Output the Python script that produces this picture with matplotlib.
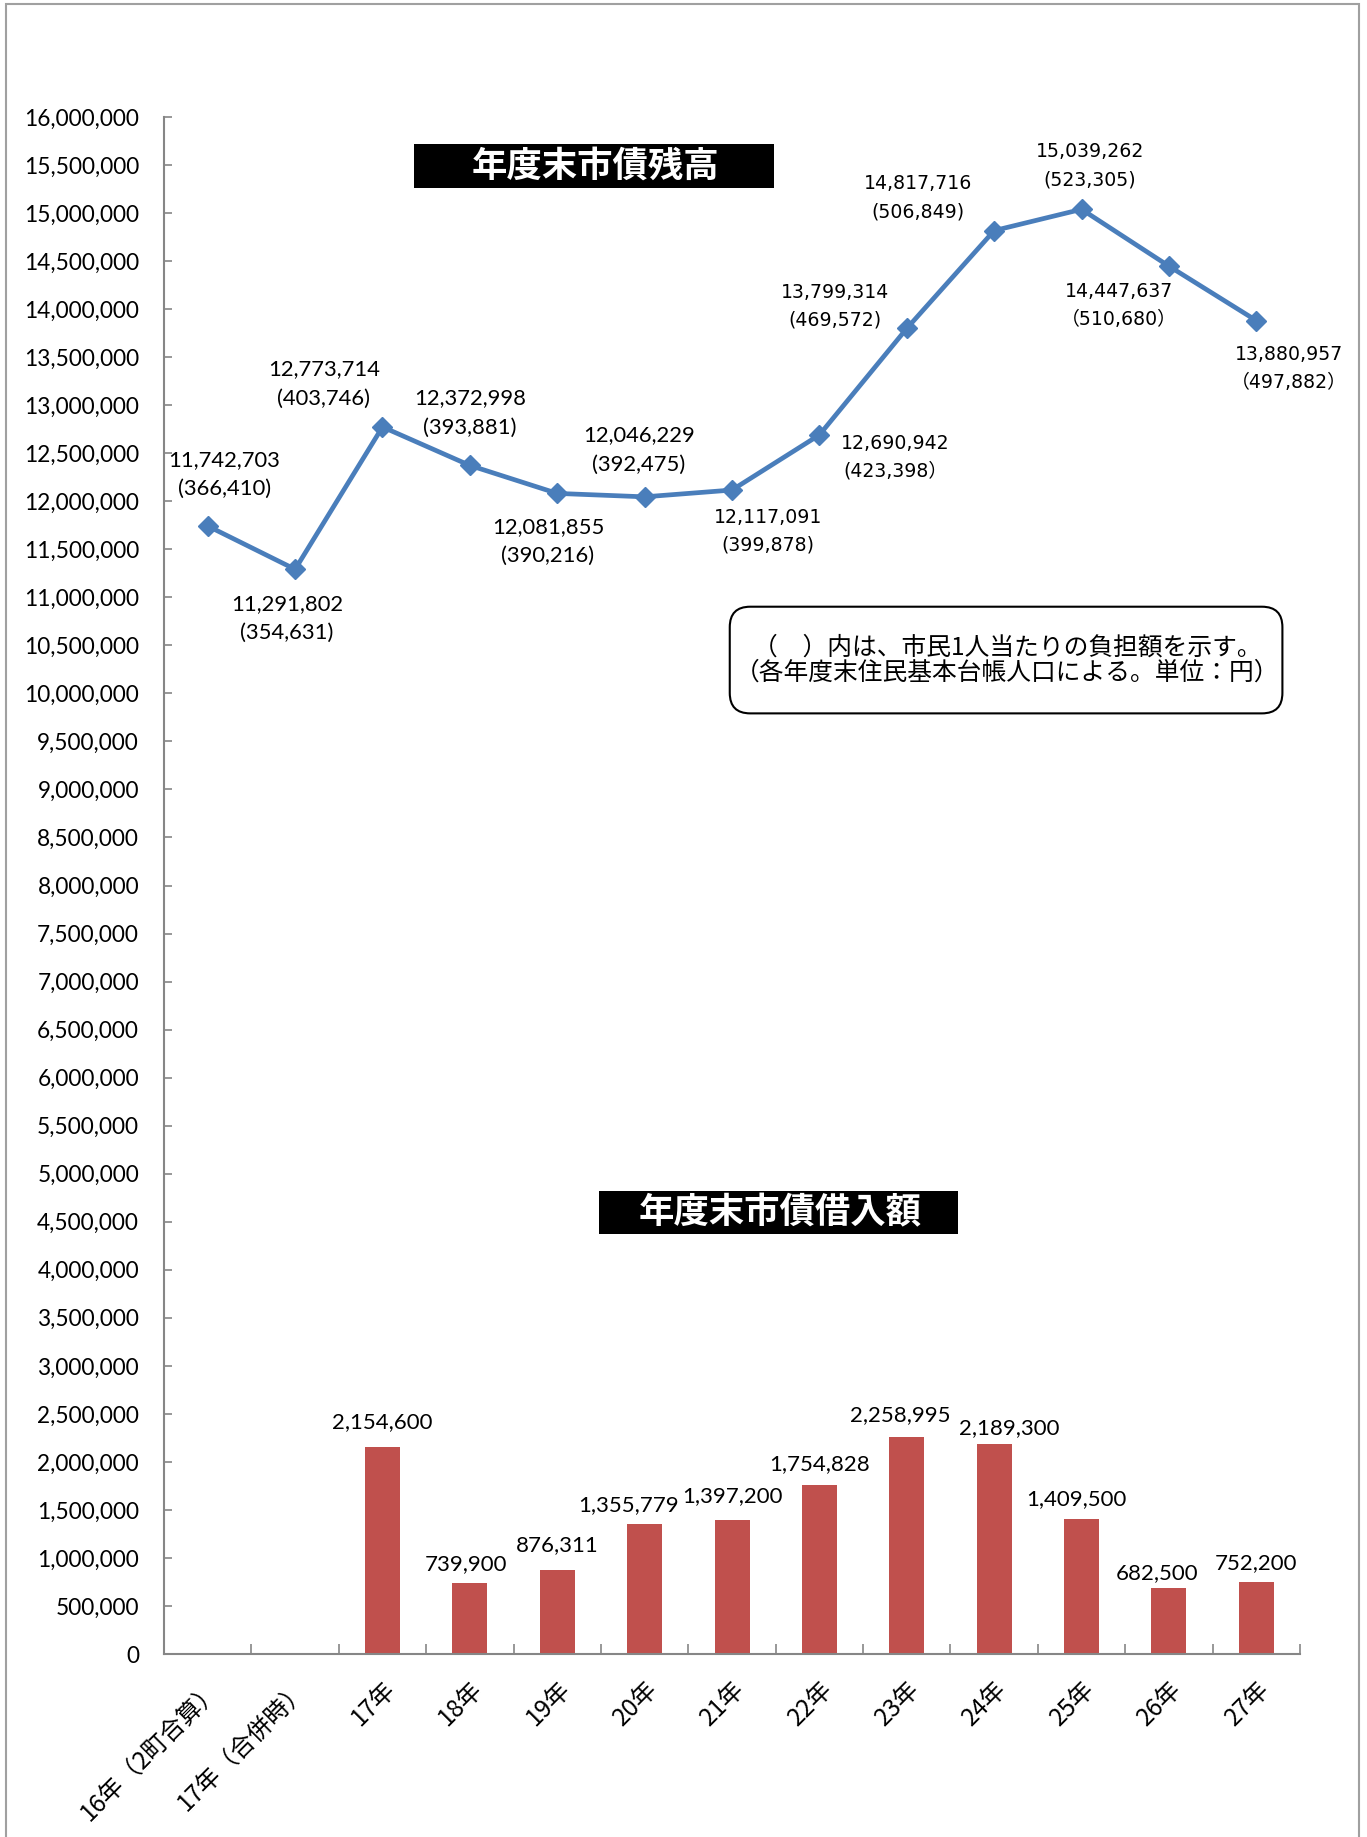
import matplotlib
matplotlib.use('Agg')
import matplotlib.pyplot as plt
from matplotlib.patches import Rectangle, FancyBboxPatch
from matplotlib.ticker import FuncFormatter, FixedLocator
import numpy as np

plt.rcParams['font.family'] = ['Lato', 'Noto Sans CJK JP', 'DejaVu Sans']

# data
years = ['16年（2町合算）', '17年（合併時）', '17年', '18年', '19年', '20年',
         '21年', '22年', '23年', '24年', '25年', '26年', '27年']
balance = [11742703, 11291802, 12773714, 12372998, 12081855, 12046229,
           12117091, 12690942, 13799314, 14817716, 15039262, 14447637,
           13880957]
per_person = [366410, 354631, 403746, 393881, 390216, 392475,
              399878, 423398, 469572, 506849, 523305, 510680, 497882]
borrowing = [0, 0, 2154600, 739900, 876311, 1355779, 1397200, 1754828,
             2258995, 2189300, 1409500, 682500, 752200]

# label layout (offsets in pixels of the reference, +y = down)
line_offsets = [(14, -44), (-7, 42), (-50, -37), (0, -45), (-8, 41), (-5, -40),
                (31, 35), (65, 19), (-61, -19), (-65, -28), (7, -37),
                (-43, 34), (28, 41)]
parens = [('(', ')')] * 7 + [('(', '）')] + [('(', ')')] * 3 + [('（', '）')] * 2
bar_offsets = [(0, 0), (0, 0), (0, -21), (-3, -16), (0, -21), (-14, -16),
               (0, -20), (0, -18), (-6, -19), (13, -13), (-4, -17),
               (-10, -13), (0, -16)]

PX = 1.1714 * 72 / 100  # reference px -> points

line_color = '#4a7ebb'
bar_color = '#c0504d'
axis_gray = '#868686'

fig = plt.figure(figsize=(13.67, 18.37), dpi=100)
fig.patches.append(Rectangle((0.0044, -0.01), 0.9898, 1.0078, transform=fig.transFigure,
                             fill=False, edgecolor='#a0a0a0', linewidth=1.5))

ax = fig.add_axes([0.120, 0.0996, 0.831, 0.8367])
x = np.arange(len(years))

ax.bar(x, borrowing, width=0.4, color=bar_color, zorder=2)
ax.plot(x, balance, color=line_color, linewidth=3.4, marker='D',
        markersize=10, zorder=3)

ax.set_xlim(-0.5, len(years) - 0.5)
ax.set_ylim(0, 16000000)

for i, (v, p) in enumerate(zip(balance, per_person)):
    dx, dy = line_offsets[i]
    lp, rp = parens[i]
    txt = f'{v:,}\n{lp}{p:,}{rp}'
    if i >= 6:
        fam = ['DejaVu Sans', 'Noto Sans CJK JP']
        fs = 13.6
    else:
        fam = ['Lato', 'Noto Sans CJK JP']
        fs = 15.8
    ax.annotate(txt, (i, v), xytext=(dx * PX, -dy * PX), textcoords='offset points',
                ha='center', va='center', fontsize=fs, family=fam,
                linespacing=1.6, zorder=4)

for i, v in enumerate(borrowing):
    if v <= 0:
        continue
    dx, dy = bar_offsets[i]
    ax.annotate(f'{v:,}', (i, v), xytext=(dx * PX, -dy * PX), textcoords='offset points',
                ha='center', va='center', fontsize=16)

# axes styling
for s in ['top', 'right']:
    ax.spines[s].set_visible(False)
for s in ['left', 'bottom']:
    ax.spines[s].set_color(axis_gray)
    ax.spines[s].set_linewidth(1.5)

ax.yaxis.set_major_locator(FixedLocator(np.arange(0, 16000001, 500000)))
ax.yaxis.set_major_formatter(FuncFormatter(lambda v, pos: f'{int(v):,}'))
ax.tick_params(axis='y', direction='in', length=6, width=1.2, color=axis_gray,
               pad=18, labelsize=16.3)

ax.set_xticks(x)
ax.set_xticks(np.arange(-0.5, len(years)), minor=True)
ax.set_xticklabels(years, rotation=45, ha='right', rotation_mode='anchor',
                   family=['Noto Sans CJK JP'], fontsize=17.5)
ax.tick_params(axis='x', which='major', length=0, pad=16)
ax.tick_params(axis='x', which='minor', direction='in', length=7, width=1.2,
               color=axis_gray)

# title boxes
ax.add_patch(Rectangle((0.2196, 0.954), 0.3175, 0.0285, transform=ax.transAxes,
                       facecolor='black', edgecolor='none', zorder=5, clip_on=False))
ax.text(0.380, 0.9683, '年度末市債残高', transform=ax.transAxes, color='white',
        fontsize=25.5, fontweight='bold', ha='center', va='center',
        family=['Noto Sans CJK JP'], zorder=6)

ax.add_patch(Rectangle((0.3825, 0.2736), 0.3165, 0.0275, transform=ax.transAxes,
                       facecolor='black', edgecolor='none', zorder=5, clip_on=False))
ax.text(0.542, 0.2873, '年度末市債借入額', transform=ax.transAxes, color='white',
        fontsize=25.5, fontweight='bold', ha='center', va='center',
        family=['Noto Sans CJK JP'], zorder=6)

# note box
ax.add_patch(FancyBboxPatch((0.498, 0.612), 0.4865, 0.0694, transform=ax.transAxes,
                            boxstyle='round,pad=0,rounding_size=0.018',
                            mutation_aspect=0.739, facecolor='white',
                            edgecolor='black', linewidth=1.5, zorder=5))
ax.text(0.742, 0.6467, '（　）内は、市民1人当たりの負担額を示す。\n（各年度末住民基本台帳人口による。単位：円）',
        transform=ax.transAxes, ha='center', va='center', fontsize=17.8,
        family=['Noto Sans CJK JP'], linespacing=1.0, zorder=6)

fig.savefig('out.png', dpi=100)
